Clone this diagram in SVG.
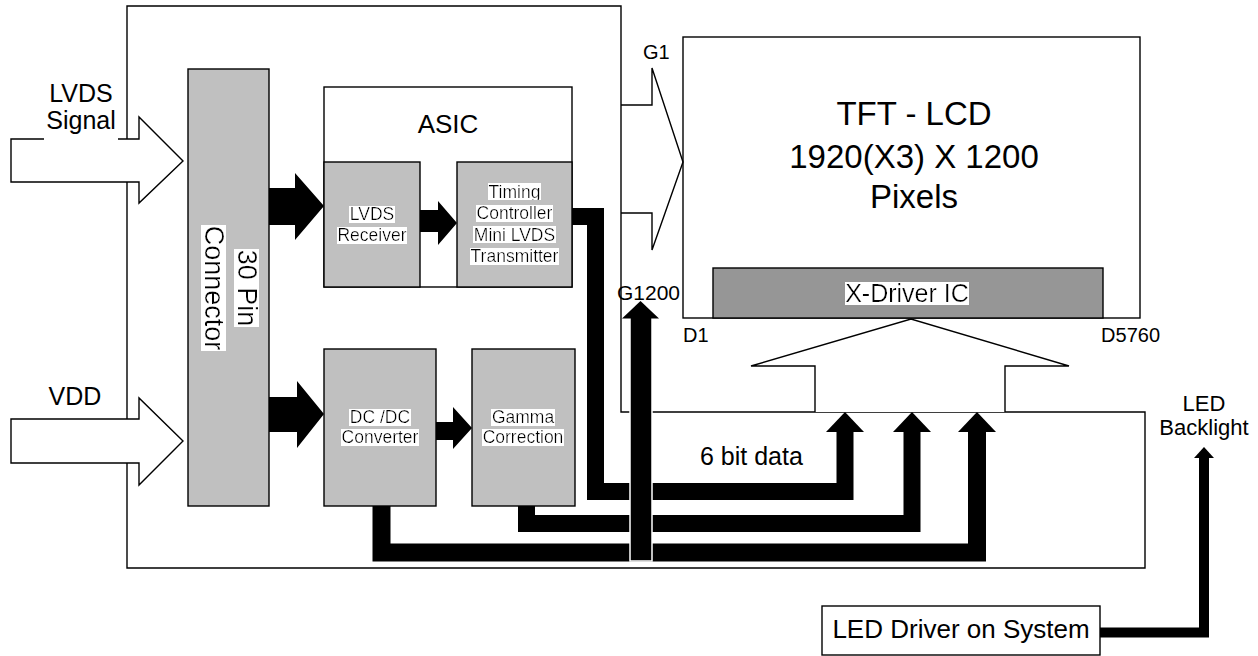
<svg xmlns="http://www.w3.org/2000/svg" width="1258" height="656" viewBox="0 0 1258 656">
<style>
.ol{fill:#fff;stroke:#000;stroke-width:1.4}
.ln{fill:none;stroke:#000;stroke-width:1.4}
.gr{fill:#c0c0c0;stroke:#000;stroke-width:1.4}
.dg{fill:#969696;stroke:#000;stroke-width:1.4}
.blk{fill:#000}
.bus{fill:none;stroke:#000;stroke-width:18;stroke-linejoin:miter;stroke-linecap:butt}
text{font-family:"Liberation Sans",Arial,sans-serif;fill:#000}
.m{text-anchor:middle}
.hl{filter:url(#hl)}
</style>
<defs>
<filter id="hl" x="0" y="0.12" width="1" height="0.8">
<feFlood flood-color="#fff" result="bg"/>
<feMerge><feMergeNode in="bg"/><feMergeNode in="SourceGraphic"/></feMerge>
</filter>
</defs>
<rect width="1258" height="656" fill="#fff"/>

<g id="module-panel">
<path class="ol" d="M127,6 H621 V412 H1145 V568 H127 Z"/>
</g>

<g id="tft-lcd">
<rect class="ol" x="683" y="37" width="457" height="281"/>
<text class="m" x="914" y="125" font-size="33">TFT - LCD</text>
<text class="m" x="914" y="168" font-size="33">1920(X3) X 1200</text>
<text class="m" x="914" y="208" font-size="33">Pixels</text>
</g>

<g id="x-driver">
<rect class="dg" x="713" y="268" width="390" height="50"/>
<text class="m hl" x="907" y="302" font-size="25">X-Driver IC</text>
</g>

<g id="connector-30pin">
<rect class="gr" x="188" y="69" width="81" height="437"/>
<text class="m hl" transform="translate(238,288) rotate(90)" font-size="27">30 Pin</text>
<text class="m hl" transform="translate(205,288) rotate(90)" font-size="27">Connector</text>
</g>

<g id="asic">
<rect class="ol" x="324" y="87" width="248" height="200"/>
<text class="m" x="448" y="133" font-size="26">ASIC</text>
</g>

<g id="lvds-receiver">
<rect class="gr" x="324" y="162" width="96" height="125"/>
<text class="m hl" x="372" y="220" font-size="17.5">LVDS</text>
<text class="m hl" x="372" y="241" font-size="17.5">Receiver</text>
</g>

<g id="timing-controller">
<rect class="gr" x="457" y="162" width="115" height="125"/>
<text class="m hl" x="514.5" y="197.5" font-size="17.5">Timing</text>
<text class="m hl" x="514.5" y="219" font-size="17.5">Controller</text>
<text class="m hl" x="514.5" y="240.5" font-size="17.5">Mini LVDS</text>
<text class="m hl" x="514.5" y="262" font-size="17.5">Transmitter</text>
</g>

<g id="dcdc-converter">
<rect class="gr" x="324" y="349" width="112" height="157"/>
<text class="m hl" x="380" y="423" font-size="17.5">DC /DC</text>
<text class="m hl" x="380" y="443" font-size="17.5">Converter</text>
</g>

<g id="gamma-correction">
<rect class="gr" x="472" y="349" width="103" height="157"/>
<text class="m hl" x="523" y="423" font-size="17.5">Gamma</text>
<text class="m hl" x="523" y="443" font-size="17.5">Correction</text>
</g>

<g id="led-driver">
<rect class="ol" x="822" y="606" width="278" height="49"/>
<text class="m" x="961" y="638" font-size="26">LED Driver on System</text>
</g>

<g id="led-backlight">
<text class="m" x="1204" y="411" font-size="22">LED</text>
<text class="m" x="1204" y="435" font-size="22">Backlight</text>
</g>

<g id="connectors">
<!-- hollow input arrows -->
<path class="ol" d="M11,139 H139 V117 L183,161 L139,203 V182 H11 Z"/>
<rect x="44" y="110" width="74" height="31" fill="#fff"/>
<path class="ol" d="M11,419 H139 V398 L183,441 L139,485 V463 H11 Z"/>
<!-- gate driver arrow G1..G1200 -->
<path class="ln" d="M621,105 H652 V68 L683,162 L652,250 V213 H621"/>
<!-- big hollow arrow to X-Driver -->
<path class="ol" d="M815,412 V366 H751 L911,319 L1069,366 H1005 V412"/>
<!-- black fat arrows -->
<path class="blk" d="M269,188 H295 V173 L324,206 L295,240 V225 H269 Z"/>
<path class="blk" d="M269,397 H297 V381 L324,414 L297,448 V432 H269 Z"/>
<path class="blk" d="M420,210 H438 V201 L457,223 L438,245 V232 H420 Z"/>
<path class="blk" d="M436,422 H453 V407 L472,428 L453,449 V440 H436 Z"/>
<!-- data buses -->
<path class="bus" style="stroke-width:17" d="M572,216.5 H595.5 V491.5 H845 V431"/>
<path class="bus" style="stroke-width:17" d="M526.5,506 V523.5 H912 V431"/>
<path class="bus" d="M381.5,506 V552.5 H977 V431"/>
<polygon class="blk" points="826,432 845,412 864,432"/>
<polygon class="blk" points="893,432 912,412 931,432"/>
<polygon class="blk" points="958,432 977,412 996,432"/>
<!-- G1200 arrow -->
<rect x="630" y="317" width="22" height="244" fill="#000" stroke="#fff" stroke-width="1.5"/>
<polygon class="blk" points="622,318.5 640.5,301 659,318.5"/>
<!-- LED driver to backlight -->
<path fill="none" stroke="#000" stroke-width="10" stroke-linejoin="miter" d="M1100,632.5 H1204 V457"/>
<polygon class="blk" points="1194,458 1204,447 1214,458"/>
</g>

<g id="labels">
<text class="m" x="81" y="102" font-size="25">LVDS</text>
<text class="m" x="81" y="129" font-size="25">Signal</text>
<text class="m" x="75" y="405" font-size="25">VDD</text>
<text x="643" y="59" font-size="20">G1</text>
<text x="617" y="300" font-size="21">G1200</text>
<text x="683" y="342" font-size="20">D1</text>
<text x="1160" y="342" font-size="20" text-anchor="end">D5760</text>
<text x="700" y="465" font-size="25">6 bit data</text>
</g>
</svg>
